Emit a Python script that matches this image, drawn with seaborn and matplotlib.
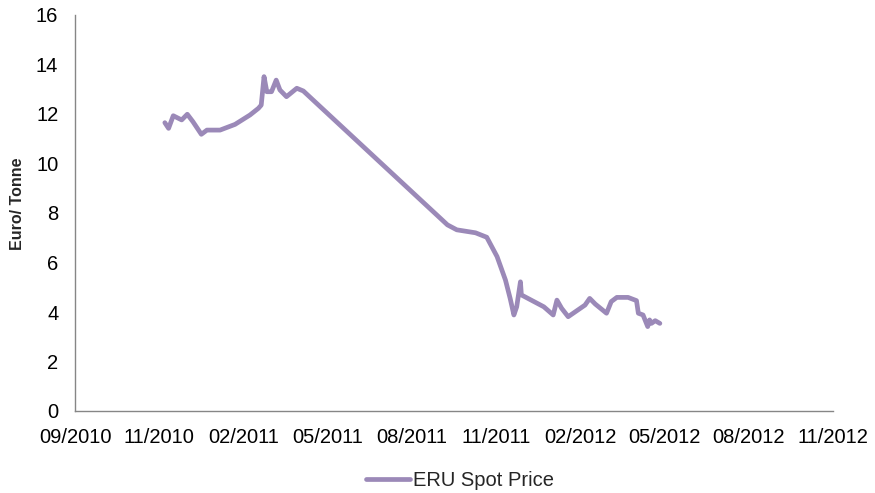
import pandas as pd
import matplotlib.pyplot as plt
import matplotlib.dates as mdates
import seaborn as sns

# Data
dates = [
    '2010-12-06', '2010-12-10', '2010-12-15', '2010-12-24', '2010-12-30',
    '2011-01-05', '2011-01-14', '2011-01-20', '2011-02-03', '2011-02-19',
    '2011-03-07', '2011-03-16', '2011-03-19', '2011-03-22', '2011-03-25',
    '2011-03-30', '2011-04-04', '2011-04-08', '2011-04-15', '2011-04-26',
    '2011-05-03', '2011-10-04', '2011-10-14', '2011-11-03', '2011-11-15',
    '2011-11-26', '2011-12-05', '2011-12-10', '2011-12-14', '2011-12-17',
    '2011-12-21', '2011-12-22', '2012-01-15', '2012-01-25', '2012-01-29',
    '2012-02-03', '2012-02-10', '2012-02-28', '2012-03-04', '2012-03-10',
    '2012-03-22', '2012-03-27', '2012-04-02', '2012-04-14', '2012-04-23',
    '2012-04-25', '2012-04-30', '2012-05-05', '2012-05-07', '2012-05-09',
    '2012-05-13', '2012-05-18',
]
prices = [
    11.65, 11.42, 11.93, 11.76, 11.99,
    11.69, 11.18, 11.35, 11.35, 11.58,
    11.96, 12.23, 12.36, 13.51, 12.90,
    12.90, 13.37, 12.97, 12.70, 13.04,
    12.93, 7.52, 7.32, 7.20, 7.02,
    6.24, 5.29, 4.55, 3.88, 4.21,
    5.22, 4.69, 4.21, 3.88, 4.48,
    4.15, 3.81, 4.28, 4.55, 4.32,
    3.95, 4.42, 4.59, 4.59, 4.46,
    3.95, 3.88, 3.41, 3.68, 3.54,
    3.65, 3.54,
]
series_name = 'ERU Spot Price'
y_ticks = [0, 2, 4, 6, 8, 10, 12, 14, 16]
x_tick_start = '2010-09-01'  # ticks every 90 days
n_x_ticks = 10

df = pd.DataFrame({'Date': pd.to_datetime(dates), 'Price': prices})
x_ticks = pd.date_range(start=x_tick_start, periods=n_x_ticks, freq='90D')

sns.set_style('white')
plt.rcParams['font.family'] = ['Liberation Sans', 'DejaVu Sans']

LINE_COLOR = '#9B89B8'
AXIS_COLOR = '#868686'

fig = plt.figure(figsize=(8.75, 4.93), dpi=100)
ax = fig.add_axes([75 / 875, 1 - 411 / 493, (833 - 75) / 875, (411 - 15) / 493])

sns.lineplot(data=df, x='Date', y='Price', sort=False, estimator=None,
             color=LINE_COLOR, linewidth=3.4, label=series_name, ax=ax,
             solid_joinstyle='round', solid_capstyle='round')

ax.set_xlim(x_ticks[0], x_ticks[-1])
ax.set_xticks(x_ticks)
ax.xaxis.set_major_formatter(mdates.DateFormatter('%m/%Y'))
ax.set_ylim(0, 16)
ax.set_yticks(y_ticks)

for side in ['top', 'right']:
    ax.spines[side].set_visible(False)
for side in ['left', 'bottom']:
    ax.spines[side].set_color(AXIS_COLOR)
    ax.spines[side].set_linewidth(1.0)

ax.tick_params(axis='both', which='major', direction='out', length=5, width=1,
               color=AXIS_COLOR, labelsize=14.5, labelcolor='black', pad=7)

ax.set_xlabel('')
ax.set_ylabel('Euro/ Tonne', fontsize=11.5, fontweight='bold')
ax.yaxis.set_label_coords(-0.066, 0.524)

ax.get_legend().remove()
handles, labels = ax.get_legend_handles_labels()
fig.legend(handles, labels, loc='center', bbox_to_anchor=(460 / 875, 1 - 481 / 493),
           frameon=False, fontsize=14.5, handlelength=2.2, handletextpad=0.15,
           borderpad=0)

fig.savefig('out.png', dpi=100)
